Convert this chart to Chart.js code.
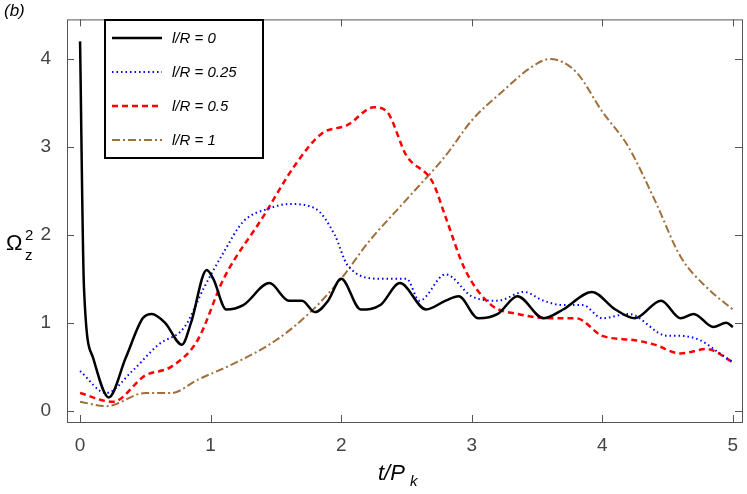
<!DOCTYPE html><html><head><script src="https://cdn.jsdelivr.net/npm/chart.js@4"></script>
<style>body{margin:0;background:#fff}</style></head><body>
<canvas id="c" width="747" height="494" style="width:747px;height:494px"></canvas>
<script>
const labels=["l/R = 0","l/R = 0.25","l/R = 0.5","l/R = 1"];
const x0=[0,0.03,0.1,0.22,0.35,0.48,0.55,0.65,0.78,0.85,0.97,1.02,1.12,1.25,1.45,1.6,1.7,1.8,1.9,2.0,2.15,2.3,2.45,2.65,2.8,2.9,3.05,3.2,3.35,3.55,3.7,3.92,4.1,4.25,4.45,4.6,4.7,4.85,4.95,5.0];
const y0=[4.2,1.4,0.6,0.15,0.6,1.05,1.1,1.0,0.75,1.0,1.6,1.5,1.15,1.2,1.45,1.25,1.25,1.12,1.25,1.5,1.15,1.2,1.45,1.15,1.25,1.3,1.05,1.1,1.3,1.05,1.15,1.35,1.15,1.05,1.25,1.05,1.1,0.95,1.0,0.95];
const x1=[0,0.2,0.4,0.6,0.8,0.95,1.1,1.25,1.45,1.6,1.8,1.95,2.05,2.3,2.5,2.6,2.8,3.0,3.2,3.4,3.55,3.7,3.85,4.0,4.2,4.5,4.6,4.75,4.9,5.0];
const y1=[0.45,0.2,0.45,0.75,0.95,1.4,1.8,2.15,2.3,2.35,2.3,2.0,1.65,1.5,1.5,1.25,1.55,1.3,1.25,1.35,1.25,1.2,1.2,1.05,1.1,0.85,0.85,0.8,0.65,0.55];
const x2=[0,0.25,0.5,0.7,0.9,1.1,1.4,1.65,1.85,2.05,2.25,2.35,2.5,2.7,2.8,2.95,3.15,3.35,3.6,3.8,4.0,4.25,4.4,4.6,4.8,5.0];
const y2=[0.2,0.1,0.4,0.5,0.8,1.5,2.2,2.8,3.15,3.25,3.45,3.4,2.9,2.6,2.2,1.6,1.2,1.1,1.05,1.05,0.85,0.8,0.75,0.65,0.7,0.55];
const x3=[0,0.2,0.5,0.7,0.9,1.2,1.5,1.75,2.0,2.2,2.5,2.8,3.0,3.25,3.45,3.6,3.8,4.0,4.2,4.4,4.6,4.8,5.0];
const y3=[0.1,0.05,0.2,0.2,0.35,0.55,0.8,1.1,1.5,1.9,2.4,2.9,3.3,3.65,3.9,4.0,3.85,3.4,3.0,2.4,1.75,1.4,1.15];
const xTicks=[0,1,2,3,4,5], yTicks=[0,1,2,3,4];
const pts=(xs,ys)=>xs.map((x,i)=>({x,y:ys[i]}));
const styles=[{c:'#000',d:[],w:2.5},{c:'#0000ff',d:[1.5,3],w:2},{c:'#ff0000',d:[6,4],w:2.5},{c:'#a0703c',d:[8,3,2,3],w:2}];
const sets=[[x0,y0],[x1,y1],[x2,y2],[x3,y3]].map((s,i)=>({label:labels[i],data:pts(s[0],s[1]),borderColor:styles[i].c,borderDash:styles[i].d,borderWidth:styles[i].w,pointRadius:0,cubicInterpolationMode:'monotone',fill:false}));
const deco={id:'deco',afterDraw(ch){const c=ch.ctx,a=ch.chartArea,xs=ch.scales.x,ys=ch.scales.y;c.save();
c.strokeStyle='#555';c.lineWidth=1;c.strokeRect(a.left+.5,a.top+.5,a.width,a.height);
c.beginPath();xTicks.forEach(v=>{const p=Math.round(xs.getPixelForValue(v))+.5;c.moveTo(p,a.bottom);c.lineTo(p,a.bottom-7);c.moveTo(p,a.top);c.lineTo(p,a.top+7);});
yTicks.forEach(v=>{const p=Math.round(ys.getPixelForValue(v))+.5;c.moveTo(a.left,p);c.lineTo(a.left+7,p);c.moveTo(a.right,p);c.lineTo(a.right-7,p);});c.stroke();
c.fillStyle='#000';c.font='italic 17px "Liberation Sans"';c.fillText('(b)',4,16);
c.font='22px "Liberation Sans"';c.fillText('Ω',6,250);c.font='15px "Liberation Sans"';c.fillText('z',25,260);c.fillText('2',25,240);
c.font='italic 22px "Liberation Sans"';c.fillText('t/P',378,480);c.font='italic 15px "Liberation Sans"';c.fillText('k',410,486);
c.fillStyle='#fff';c.strokeStyle='#000';c.lineWidth=2;c.fillRect(105,20,158,138);c.strokeRect(105,20,158,138);
labels.forEach((l,i)=>{const y=38+i*34;c.strokeStyle=styles[i].c;c.lineWidth=styles[i].w;c.setLineDash(styles[i].d);c.beginPath();c.moveTo(112,y);c.lineTo(162,y);c.stroke();c.setLineDash([]);c.fillStyle='#000';c.font='italic 15px "Liberation Sans"';c.fillText(l,172,y+5);});
c.restore();}};
new Chart(document.getElementById('c'),{type:'line',data:{datasets:sets},plugins:[deco],options:{responsive:false,animation:false,layout:{padding:{top:5,right:5,left:0,bottom:0}},
plugins:{legend:{display:false},tooltip:{enabled:false}},
scales:{x:{type:'linear',min:-0.1,max:5.07,afterBuildTicks:s=>{s.ticks=xTicks.map(v=>({value:v}))},afterFit:s=>{s.height=72},grid:{display:false},border:{display:false},ticks:{color:'#444',font:{size:19,family:'Liberation Sans'},padding:4}},
y:{min:-0.13,max:4.45,afterBuildTicks:s=>{s.ticks=yTicks.map(v=>({value:v}))},afterFit:s=>{s.width=67},grid:{display:false},border:{display:false},ticks:{color:'#444',font:{size:19,family:'Liberation Sans'},padding:8}}}}});
</script></body></html>
